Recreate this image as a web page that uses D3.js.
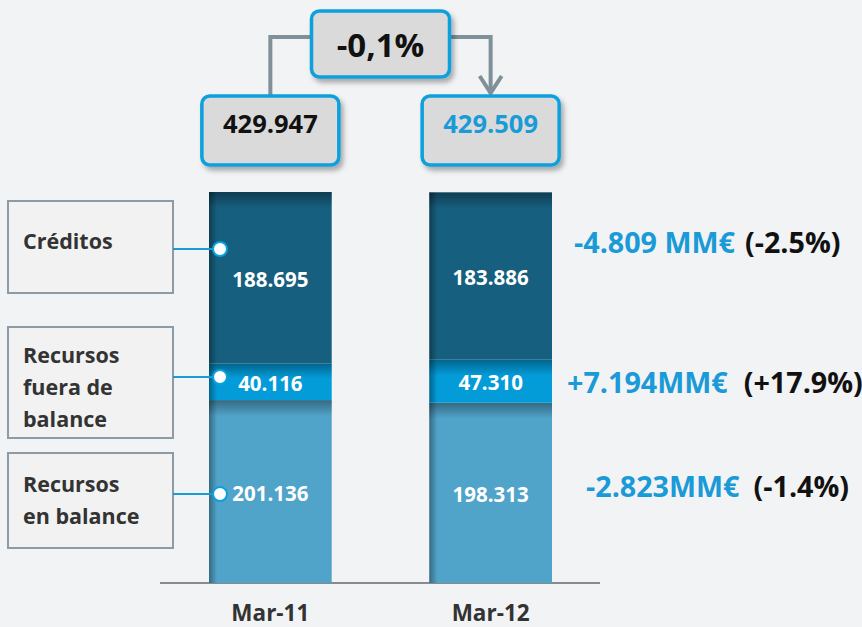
<!DOCTYPE html>
<html>
<head>
<meta charset="utf-8">
<script src="https://cdn.jsdelivr.net/npm/d3@7"></script>
<style>
  body { margin: 0; background: #f2f3f5; }
  svg { display: block; font-family: "Open Sans", sans-serif; font-weight: bold; }
</style>
</head>
<body>
<svg id="chart" width="862" height="627"></svg>
<script>
var categories = ["Mar-11", "Mar-12"];
var creditos = [188695, 183886];
var fueraBalance = [40116, 47310];
var enBalance = [201136, 198313];
var legendLines = [["Créditos"], ["Recursos", "fuera de", "balance"], ["Recursos", "en balance"]];
var unitText = [" MM€", "MM€", "MM€"];

var svg = d3.select("#chart"), width = 862, height = 627;
var locale = d3.formatLocale({decimal: ",", thousands: ".", grouping: [3], currency: ["", "€"], minus: "-"});
var localeDot = d3.formatLocale({decimal: ".", thousands: ",", grouping: [3], currency: ["", "€"], minus: "-"});
var fmtNum = locale.format(",d");
var fmtPct = localeDot.format("+.1%");

var rows = categories.map(function (c, i) {
    return {cat: c, balance: enBalance[i], fuera: fueraBalance[i], creditos: creditos[i]};
});
var keys = ["balance", "fuera", "creditos"];
var colors = {balance: "#50a3c9", fuera: "#039bd8", creditos: "#165f7e"};
var totals = rows.map(function (d) { return d.balance + d.fuera + d.creditos; });

var stack = d3.stack().keys(keys)(rows);

var x = d3.scaleBand().domain(categories).range([209, 552]).paddingInner(0.443);
var y = d3.scaleLinear().domain([0, d3.max(totals)]).range([583, 192]);

// defs: shadows and shading
var defs = svg.append("defs");
var f = defs.append("filter").attr("id", "shadow").attr("x", "-10%").attr("y", "-10%").attr("width", "130%").attr("height", "140%");
f.append("feDropShadow").attr("dx", 3).attr("dy", 4).attr("stdDeviation", 2.5)
    .attr("flood-color", "#000").attr("flood-opacity", 0.3);

var gTop = defs.append("linearGradient").attr("id", "topShade").attr("x1", 0).attr("y1", 0).attr("x2", 0).attr("y2", 1);
gTop.append("stop").attr("offset", 0).attr("stop-color", "#000").attr("stop-opacity", 0.35);
gTop.append("stop").attr("offset", 1).attr("stop-color", "#000").attr("stop-opacity", 0);
var gLeft = defs.append("linearGradient").attr("id", "leftShade").attr("x1", 0).attr("y1", 0).attr("x2", 1).attr("y2", 0);
gLeft.append("stop").attr("offset", 0).attr("stop-color", "#000").attr("stop-opacity", 0.35);
gLeft.append("stop").attr("offset", 1).attr("stop-color", "#000").attr("stop-opacity", 0);

// baseline
svg.append("line")
    .attr("x1", 160).attr("x2", 600)
    .attr("y1", y(0)).attr("y2", y(0))
    .attr("stroke", "#8a8a8a").attr("stroke-width", 2);

// stacked bars
var layers = svg.append("g").selectAll("g")
    .data(stack)
    .enter().append("g")
    .attr("fill", function (d) { return colors[d.key]; });

layers.selectAll("rect.seg")
    .data(function (d) { return d; })
    .enter().append("rect")
    .attr("class", "seg")
    .attr("x", function (d) { return x(d.data.cat); })
    .attr("y", function (d) { return y(d[1]); })
    .attr("width", x.bandwidth())
    .attr("height", function (d) { return y(d[0]) - y(d[1]); });

// shading on top of each segment
layers.selectAll("rect.top")
    .data(function (d) { return d; })
    .enter().append("rect")
    .attr("class", "top")
    .attr("fill", "url(#topShade)")
    .attr("x", function (d) { return x(d.data.cat); })
    .attr("y", function (d) { return y(d[1]); })
    .attr("width", x.bandwidth())
    .attr("height", function (d) { return Math.min(16, (y(d[0]) - y(d[1])) * 0.4); });

layers.selectAll("rect.left")
    .data(function (d) { return d; })
    .enter().append("rect")
    .attr("class", "left")
    .attr("fill", "url(#leftShade)")
    .attr("x", function (d) { return x(d.data.cat); })
    .attr("y", function (d) { return y(d[1]); })
    .attr("width", 8)
    .attr("height", function (d) { return y(d[0]) - y(d[1]); });

// value labels inside segments
layers.selectAll("text")
    .data(function (d) { return d; })
    .enter().append("text")
    .attr("x", function (d) { return x(d.data.cat) + x.bandwidth() / 2; })
    .attr("y", function (d) { return (y(d[0]) + y(d[1])) / 2; })
    .attr("dy", "0.45em")
    .attr("text-anchor", "middle")
    .attr("fill", "#fff")
    .attr("font-size", 20.5)
    .text(function (d, i) { return fmtNum(d[1] - d[0]); });

// category labels
svg.append("g").selectAll("text")
    .data(categories)
    .enter().append("text")
    .attr("x", function (d) { return x(d) + x.bandwidth() / 2; })
    .attr("y", 621)
    .attr("text-anchor", "middle")
    .attr("fill", "#333")
    .attr("font-size", 22.5)
    .text(function (d) { return d; });

// total boxes and change box
var boxW = 137, boxH = 69;
var cx = categories.map(function (c) { return x(c) + x.bandwidth() / 2; });
var midX = (cx[0] + cx[1]) / 2;
var connY = 37;

var conn = svg.append("g").attr("fill", "none").attr("stroke", "#7f9099").attr("stroke-width", 4);
conn.append("path").attr("d", d3.line()([[cx[0], 95], [cx[0], connY], [midX, connY]]));
conn.append("path").attr("d", d3.line()([[midX, connY], [cx[1], connY], [cx[1], 93]]));
conn.append("path").attr("d", d3.line()([[cx[1] - 11, 76], [cx[1], 93], [cx[1] + 11, 76]]));

var totalBoxes = svg.append("g").selectAll("g")
    .data(totals)
    .enter().append("g");
totalBoxes.append("rect")
    .attr("x", function (d, i) { return cx[i] - boxW / 2; })
    .attr("y", 96)
    .attr("width", boxW).attr("height", boxH).attr("rx", 8)
    .attr("fill", "#dadada").attr("stroke", "#0aa0dc").attr("stroke-width", 3.5)
    .attr("filter", "url(#shadow)");
totalBoxes.append("text")
    .attr("x", function (d, i) { return cx[i]; })
    .attr("y", 133)
    .attr("text-anchor", "middle")
    .attr("font-size", 25.5)
    .attr("fill", function (d, i) { return i === 0 ? "#111" : "#1a9ad6"; })
    .text(function (d) { return fmtNum(d); });

var change = totals[1] / totals[0] - 1;
svg.append("rect")
    .attr("x", midX - 69).attr("y", 11)
    .attr("width", 138).attr("height", 66).attr("rx", 8)
    .attr("fill", "#dadada").attr("stroke", "#0aa0dc").attr("stroke-width", 3.5)
    .attr("filter", "url(#shadow)");
svg.append("text")
    .attr("x", midX).attr("y", 57)
    .attr("text-anchor", "middle")
    .attr("font-size", 33)
    .attr("fill", "#111")
    .text(locale.format(".1%")(change));

// legend boxes on the left, linked to Mar-11 bar
var legendBoxes = [
    {key: "creditos", y: 201, h: 92, lineY: 249, textY: 249},
    {key: "fuera", y: 327, h: 111, lineY: 377, textY: 363},
    {key: "balance", y: 453, h: 95, lineY: 494, textY: 492}
];
var leg = svg.append("g").selectAll("g")
    .data(legendBoxes)
    .enter().append("g");
leg.append("rect")
    .attr("x", 8).attr("y", function (d) { return d.y; })
    .attr("width", 165).attr("height", function (d) { return d.h; })
    .attr("fill", "#f2f2f2").attr("stroke", "#8c9ba6").attr("stroke-width", 2);
leg.append("text")
    .attr("x", 23)
    .attr("y", function (d) { return d.textY; })
    .attr("fill", "#333")
    .attr("font-size", 21.5)
    .selectAll("tspan")
    .data(function (d, i) { return legendLines[i]; })
    .enter().append("tspan")
    .attr("x", 23)
    .attr("dy", function (d, i) { return i === 0 ? 0 : 32; })
    .text(function (d) { return d; });
leg.append("line")
    .attr("x1", 173).attr("x2", x(categories[0]) + 11)
    .attr("y1", function (d) { return d.lineY; })
    .attr("y2", function (d) { return d.lineY; })
    .attr("stroke", "#1a9ad6").attr("stroke-width", 2);
leg.append("circle")
    .attr("cx", x(categories[0]) + 11)
    .attr("cy", function (d) { return d.lineY; })
    .attr("r", 7)
    .attr("fill", "#fff").attr("stroke", "#0aa0dc").attr("stroke-width", 2);

// change annotations on the right
var deltas = [
    {key: "creditos", x: 574, dy: -23, gap: 10},
    {key: "fuera", x: 567, dy: 12, gap: 16},
    {key: "balance", x: 586, dy: 4, gap: 14}
];
var ann = svg.append("g").selectAll("text")
    .data(deltas)
    .enter().append("text")
    .attr("x", function (d) { return d.x; })
    .attr("y", function (d) {
        var s = stack.find(function (l) { return l.key === d.key; })[1];
        return (y(s[0]) + y(s[1])) / 2 + d.dy;
    })
    .attr("font-size", 28.7);
ann.append("tspan")
    .attr("fill", "#1a9ad6")
    .text(function (d, i) {
        var diff = rows[1][d.key] - rows[0][d.key];
        return (diff > 0 ? "+" : "-") + fmtNum(Math.abs(diff)) + unitText[i];
    });
ann.append("tspan")
    .attr("fill", "#111")
    .attr("dx", function (d) { return d.gap; })
    .text(function (d) {
        var pct = rows[1][d.key] / rows[0][d.key] - 1;
        return "(" + fmtPct(pct) + ")";
    });
</script>
</body>
</html>
